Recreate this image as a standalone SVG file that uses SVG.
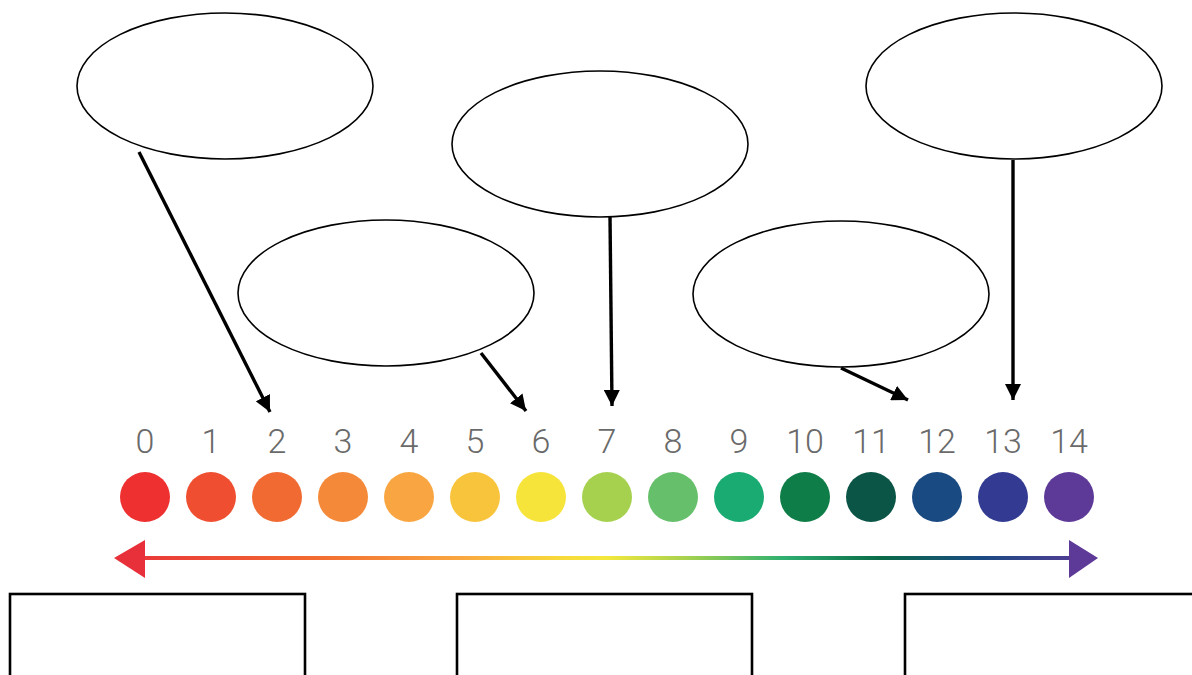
<svg xmlns="http://www.w3.org/2000/svg" width="1192" height="675" viewBox="0 0 1192 675">
<defs>
<style>
.bubble{fill:#fff;stroke:#000;stroke-width:1.6}
.box{fill:#fff;stroke:#000;stroke-width:2.6}
.conn{stroke:#000;stroke-width:3.4;fill:none;marker-end:url(#ah)}
.num{font-family:Roboto,"Liberation Sans",sans-serif;font-weight:300;font-size:34px;fill:#6a6a6a;text-anchor:middle}
</style>
<marker id="ah" viewBox="0 0 10 10" refX="10" refY="5" markerWidth="16" markerHeight="16" markerUnits="userSpaceOnUse" orient="auto">
<path d="M0,0 L10,5 L0,10 z" fill="#000"/>
</marker>
<linearGradient id="spec" gradientUnits="userSpaceOnUse" x1="114" y1="0" x2="1098" y2="0">
<stop offset="0" stop-color="#e8303a"/>
<stop offset="0.2" stop-color="#f26a30"/>
<stop offset="0.35" stop-color="#f9a640"/>
<stop offset="0.45" stop-color="#f8d83a"/>
<stop offset="0.5" stop-color="#f4e83c"/>
<stop offset="0.58" stop-color="#a8d24e"/>
<stop offset="0.68" stop-color="#2fb070"/>
<stop offset="0.78" stop-color="#0a6a48"/>
<stop offset="0.88" stop-color="#1a4a82"/>
<stop offset="1" stop-color="#5e3a98"/>
</linearGradient>
</defs>
<rect width="1192" height="675" fill="#fff"/>

<g id="bubble1"><ellipse class="bubble" cx="225" cy="86" rx="148" ry="73"/></g>
<g id="bubble2"><ellipse class="bubble" cx="600" cy="144" rx="148" ry="73"/></g>
<g id="bubble3"><ellipse class="bubble" cx="1014" cy="86" rx="148" ry="73"/></g>
<g id="bubble4"><ellipse class="bubble" cx="386" cy="293" rx="148" ry="73"/></g>
<g id="bubble5"><ellipse class="bubble" cx="841" cy="294" rx="148" ry="73"/></g>

<g id="connectors">
<line class="conn" x1="139" y1="152" x2="270" y2="412"/>
<line class="conn" x1="481" y1="353" x2="526" y2="411"/>
<line class="conn" x1="610" y1="216" x2="612" y2="406"/>
<line class="conn" x1="841" y1="368" x2="908" y2="400"/>
<line class="conn" x1="1013" y1="160" x2="1013" y2="400"/>
</g>

<g id="scale">
<g class="labels">
<text class="num" x="145" y="453">0</text>
<text class="num" x="211" y="453">1</text>
<text class="num" x="277" y="453">2</text>
<text class="num" x="343" y="453">3</text>
<text class="num" x="409" y="453">4</text>
<text class="num" x="475" y="453">5</text>
<text class="num" x="541" y="453">6</text>
<text class="num" x="607" y="453">7</text>
<text class="num" x="673" y="453">8</text>
<text class="num" x="739" y="453">9</text>
<text class="num" x="805" y="453">10</text>
<text class="num" x="871" y="453">11</text>
<text class="num" x="937" y="453">12</text>
<text class="num" x="1003" y="453">13</text>
<text class="num" x="1069" y="453">14</text>
</g>
<g class="dots">
<circle cx="145" cy="497" r="25" fill="#ee3030"/>
<circle cx="211" cy="497" r="25" fill="#f04e30"/>
<circle cx="277" cy="497" r="25" fill="#f06a32"/>
<circle cx="343" cy="497" r="25" fill="#f5893a"/>
<circle cx="409" cy="497" r="25" fill="#f9a642"/>
<circle cx="475" cy="497" r="25" fill="#f8c43c"/>
<circle cx="541" cy="497" r="25" fill="#f6e43a"/>
<circle cx="607" cy="497" r="25" fill="#a6d14f"/>
<circle cx="673" cy="497" r="25" fill="#66bf6a"/>
<circle cx="739" cy="497" r="25" fill="#1aab72"/>
<circle cx="805" cy="497" r="25" fill="#0e7d47"/>
<circle cx="871" cy="497" r="25" fill="#0a5546"/>
<circle cx="937" cy="497" r="25" fill="#1a4a82"/>
<circle cx="1003" cy="497" r="25" fill="#323b91"/>
<circle cx="1069" cy="497" r="25" fill="#5e3a98"/>
</g>
<g id="spectrum-arrow">
<rect x="140" y="556" width="932" height="4" fill="url(#spec)"/>
<polygon points="114,558 145,540 145,578" fill="#e8303a"/>
<polygon points="1098,558 1069,540 1069,578" fill="#5e3a98"/>
</g>
</g>

<g id="box1"><rect class="box" x="10" y="594" width="295" height="100"/></g>
<g id="box2"><rect class="box" x="457" y="594" width="295" height="100"/></g>
<g id="box3"><rect class="box" x="905" y="594" width="300" height="100"/></g>
</svg>
